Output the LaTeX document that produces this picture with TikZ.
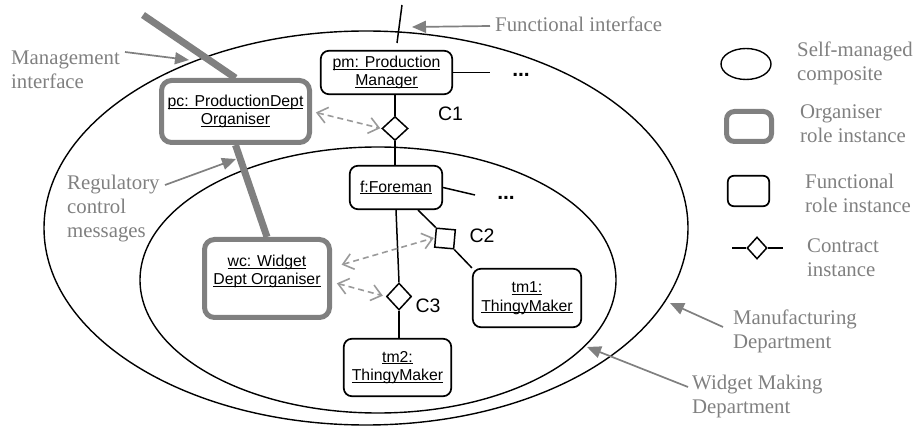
\documentclass[tikz,border=0pt]{standalone}
\usepackage{fontspec}
\usetikzlibrary{shapes.geometric,arrows.meta,calc}
\newfontfamily\serifl{Liberation Serif}
\newfontfamily\sansl{Liberation Sans}
\definecolor{lgray}{HTML}{808080}
\definecolor{dgray}{HTML}{9A9A9A}
\newsavebox{\ulbox}
\newcommand{\ulx}[1]{\sbox\ulbox{#1}\rlap{\rule[-2.3pt]{\wd\ulbox}{1.1pt}}\usebox\ulbox}
\tikzset{
  fbox/.style={draw, line width=1.7pt, rounded corners=8pt, fill=white, inner sep=0pt,
    font=\sansl\fontsize{15.8}{18.5}\selectfont, align=center},
  obox/.style={draw=lgray, line width=5pt, rounded corners=10pt, fill=white, inner sep=0pt,
    font=\sansl\fontsize{15.8}{18.5}\selectfont, align=center},
  btext/.style={inner sep=0pt, font=\sansl\fontsize{15.8}{18.5}\selectfont, align=center},
  cdia/.style={diamond, draw, line width=1.5pt, fill=white, inner sep=0pt},
  csq/.style={rectangle, draw, line width=1.5pt, fill=white, inner sep=0pt, minimum size=19pt},
  lbl/.style={text=lgray, font=\serifl\fontsize{20.8}{24}\selectfont, align=left, inner sep=0pt,
    anchor=west, execute at begin node=\strut, execute at end node=\strut},
  garrow/.style={draw=lgray, line width=1.7pt, -{Triangle[length=14pt,width=12pt]}},
  dasharr/.style={draw=dgray, line width=1.6pt, dash pattern=on 6pt off 4pt,
    {Straight Barb[length=10pt,width=16pt]}-{Straight Barb[length=10pt,width=16pt]}},
  thickg/.style={draw=lgray, line width=7pt},
  conn/.style={draw, line width=1.5pt},
  ell/.style={draw, line width=1.4pt},
  clbl/.style={font=\sansl\fontsize{19.5}{22}\selectfont, inner sep=0pt},
  dotsl/.style={font=\sansl\bfseries\fontsize{21}{22}\selectfont, inner sep=0pt}
}
\begin{document}
\begin{tikzpicture}[x=1pt,y=-1pt]
\useasboundingbox (0,0) rectangle (916,430);
% composites
\node[ell, ellipse, minimum width=644pt, minimum height=394pt, inner sep=0pt] (outer) at (366,228) {};
\node[ell, ellipse, minimum width=476pt, minimum height=266pt, inner sep=0pt] (inner) at (378,280) {};

% functional interface tick
\coordinate (fi1) at (402,5);
\coordinate (fi2) at (397,43);
\draw[conn] (fi1) -- (fi2);

% role boxes
\node[fbox, minimum width=131.4pt, minimum height=43.4pt] (pm) at (386.5,72.5) {\ulx{pm: Production}\\\ulx{Manager}};
\node[fbox, minimum width=92.4pt, minimum height=43.4pt] (f) at (396,187.5) {\ulx{f:Foreman}};
\node[fbox, minimum width=108.4pt, minimum height=58.4pt] (tm1) at (527,298) {\ulx{tm1:}\\\ulx{ThingyMaker}};
\node[fbox, minimum width=107.4pt, minimum height=57.4pt] (tm2) at (397.5,367.5) {\ulx{tm2:}\\\ulx{ThingyMaker}};
\node[obox, minimum width=148pt, minimum height=62pt] (pc) at (235.5,111.5) {\ulx{pc: ProductionDept}\\\ulx{Organiser}};
\node[obox, minimum width=125pt, minimum height=78pt] (wc) at (267,278.5) {};
\node[btext] (wct) at (267,271.5) {\ulx{wc: Widget}\\\ulx{Dept Organiser}};

% thick regulatory lines
\coordinate (mi) at (143,15);
\draw[thickg] (mi) -- (pc.north);
\draw[thickg] (pc.south) -- (wc.north);

% contracts
\node[cdia, minimum width=26pt, minimum height=24pt] (c1) at (395,128.5) {};
\node[csq, rotate=-5] (c2) at (445,238.5) {};
\node[cdia, minimum width=25pt, minimum height=27pt] (c3) at (399,296.5) {};

\draw[conn] (c1.north |- pm.south) -- (c1.north);
\draw[conn] (c1.south) -- (c1.south |- f.north);
\draw[conn] ([xshift=22pt]f.south) -- (c2.north west);
\draw[conn] (c2.south east) -- (tm1.north west);
\draw[conn] (f.south) -- (c3.north);
\draw[conn] (c3.south) -- (c3.south |- tm2.north);

\node[clbl] (c1l) at (450.5,114) {C1};
\node[clbl] (c2l) at (482,235.5) {C2};
\node[clbl] (c3l) at (428,305.5) {C3};

% open ends
\coordinate (pmend) at (490,72.5);
\coordinate (fend) at (475,195);
\draw[conn] (pm.east) -- (pmend);
\draw[conn] (f.east) -- (fend);
\node[dotsl] (d1) at (521,75) {...};
\node[dotsl] (d2) at (506,198) {...};

% regulatory messages
\draw[dasharr, shorten <=4pt, shorten >=1pt] (pc.east) -- (c1.west);
\draw[dasharr, shorten <=10pt, shorten >=1pt] ([yshift=11pt]wc.east) -- (c2.west);
\draw[dasharr, shorten <=5pt, shorten >=3pt] ([yshift=-3.5pt]wc.east) -- (c3.west);

% annotations
\node[lbl] (fit) at (495,27.2) {Functional interface};
\coordinate (fia) at (490,26);
\coordinate (fib) at (412,27);
\draw[garrow] (fia) -- (fib);

\node[lbl] (mgt) at (11,73.2) {Management\\interface};
\coordinate (mga) at (125,52);
\coordinate (mgb) at (189,60);
\draw[garrow] (mga) -- (mgb);

\node[lbl] (rgt) at (67,210.2) {Regulatory\\control\\messages};
\coordinate (rga) at (165,185);
\coordinate (rgb) at (236,159);
\draw[garrow] (rga) -- (rgb);

\node[lbl] (mft) at (733,332.7) {Manufacturing\\Department};
\coordinate (mfa) at (723,327);
\coordinate (mfb) at (670,303);
\draw[garrow] (mfa) -- (mfb);

\node[lbl] (wmt) at (692,397.7) {Widget Making\\Department};
\coordinate (wma) at (688,387);
\coordinate (wmb) at (587,347);
\draw[garrow] (wma) -- (wmb);

% legend
\node[ell, ellipse, minimum width=50pt, minimum height=31pt, inner sep=0pt] (lge) at (746,64) {};
\node[lbl] (lget) at (797,65.2) {Self-managed\\composite};
\node[obox, minimum width=45pt, minimum height=30pt, rounded corners=8pt] (lgo) at (749,126.5) {};
\node[lbl] (lgot) at (800,127.2) {Organiser\\role instance};
\node[fbox, minimum width=41.4pt, minimum height=30.4pt, rounded corners=6pt] (lgf) at (748.5,191) {};
\node[lbl] (lgft) at (805,197.2) {Functional\\role instance};
\node[cdia, minimum width=20pt, minimum height=22pt] (lgc) at (757,248) {};
\coordinate (lgl) at (732,248);
\coordinate (lgr) at (783,248);
\draw[conn] (lgl) -- (lgc.west);
\draw[conn] (lgc.east) -- (lgr);
\node[lbl] (lgct) at (807,261.2) {Contract\\instance};
\end{tikzpicture}
\end{document}
